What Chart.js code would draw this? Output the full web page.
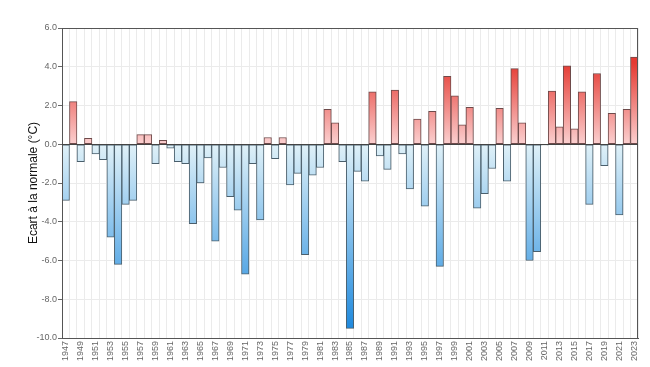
<!DOCTYPE html>
<html>
<head>
<meta charset="utf-8">
<script src="https://cdn.jsdelivr.net/npm/chart.js@4"></script>
<style>
  html, body { margin: 0; padding: 0; background: #fff; }
  #wrap { width: 650px; height: 367px; }
</style>
</head>
<body>
<div id="wrap"><canvas id="chart" width="650" height="367"></canvas></div>
<script>
const years = [];
for (let y = 1947; y <= 2023; y++) years.push(String(y));

// écart à la normale (°C), 1947 -> 2023
const ecarts = [
  -2.9, 2.2, -0.9, 0.3, -0.5, -0.8, -4.8, -6.2, -3.1, -2.9,
  0.5, 0.5, -1.0, 0.2, -0.2, -0.9, -1.0, -4.1, -2.0, -0.7,
  -5.0, -1.2, -2.7, -3.4, -6.7, -1.0, -3.9, 0.35, -0.75, 0.35,
  -2.1, -1.5, -5.7, -1.6, -1.2, 1.8, 1.1, -0.9, -9.5, -1.4,
  -1.9, 2.7, -0.6, -1.3, 2.8, -0.5, -2.3, 1.3, -3.2, 1.7,
  -6.3, 3.5, 2.5, 1.0, 1.9, -3.3, -2.55, -1.25, 1.85, -1.9,
  3.9, 1.1, -6.0, -5.55, -0.05, 2.75, 0.9, 4.05, 0.8, 2.7,
  -3.1, 3.65, -1.1, 1.6, -3.65, 1.8, 4.5
];

const yTicks = { min: -10, max: 6, step: 2 };

let gradCache = {};
function barFill(ctx) {
  const chart = ctx.chart;
  const area = chart.chartArea;
  if (!area) return '#ccc';
  const v = ctx.raw;
  const ys = chart.scales.y;
  const key = (v >= 0 ? 'p' : 'n') + area.top + '_' + area.bottom;
  if (gradCache[key]) return gradCache[key];
  const c = chart.ctx;
  const y0 = ys.getPixelForValue(0);
  let g;
  if (v >= 0) {
    g = c.createLinearGradient(0, y0, 0, ys.getPixelForValue(4.2));
    g.addColorStop(0, '#fbd0d0');
    g.addColorStop(1, '#e53a32');
  } else {
    g = c.createLinearGradient(0, y0, 0, ys.getPixelForValue(-10));
    g.addColorStop(0, '#e0f1f8');
    g.addColorStop(1, '#1584dc');
  }
  gradCache[key] = g;
  return g;
}

const frame = {
  id: 'frame',
  afterDraw(chart) {
    const { ctx, chartArea: a } = chart;
    ctx.save();
    ctx.strokeStyle = '#555';
    ctx.lineWidth = 1;
    ctx.strokeRect(a.left + 0.5, a.top + 0.5, a.right - a.left - 1, a.bottom - a.top);
    // ligne du zéro
    const y0 = Math.round(chart.scales.y.getPixelForValue(0)) + 0.5;
    ctx.strokeStyle = '#444';
    ctx.beginPath();
    ctx.moveTo(a.left, y0);
    ctx.lineTo(a.right, y0);
    ctx.stroke();
    ctx.restore();
  }
};

new Chart(document.getElementById('chart'), {
  type: 'bar',
  data: {
    labels: years,
    datasets: [{
      data: ecarts,
      backgroundColor: barFill,
      borderColor: ctx => ctx.raw >= 0 ? '#6e4a4a' : '#4a5f6c',
      borderWidth: 1,
      borderSkipped: false,
      barPercentage: 1,
      categoryPercentage: 1
    }]
  },
  options: {
    responsive: false,
    animation: false,
    layout: { padding: { left: 22, right: 12, top: 28, bottom: 0 } },
    plugins: { legend: { display: false }, tooltip: { enabled: false } },
    scales: {
      x: {
        grid: { color: '#ebebeb', drawTicks: false, offset: true },
        border: { color: '#555' },
        ticks: {
          autoSkip: false,
          maxRotation: 90,
          minRotation: 90,
          padding: 3,
          color: '#666',
          font: { family: 'Liberation Sans', size: 9 },
          callback: (val, i) => i % 2 === 0 ? years[i] : ''
        },
        afterFit: s => { s.height = 29; }
      },
      y: {
        min: yTicks.min,
        max: yTicks.max,
        grid: { color: '#ebebeb', tickColor: '#666', tickLength: 4 },
        border: { color: '#555' },
        ticks: {
          stepSize: yTicks.step,
          padding: 1,
          color: '#666',
          font: { family: 'Liberation Sans', size: 9 },
          callback: v => v.toFixed(1)
        },
        title: {
          display: true,
          text: 'Ecart à la normale (°C)',
          color: '#111',
          font: { family: 'Liberation Sans', size: 12 }
        },
        afterFit: s => { s.width = 40; }
      }
    }
  },
  plugins: [frame]
});
</script>
</body>
</html>
